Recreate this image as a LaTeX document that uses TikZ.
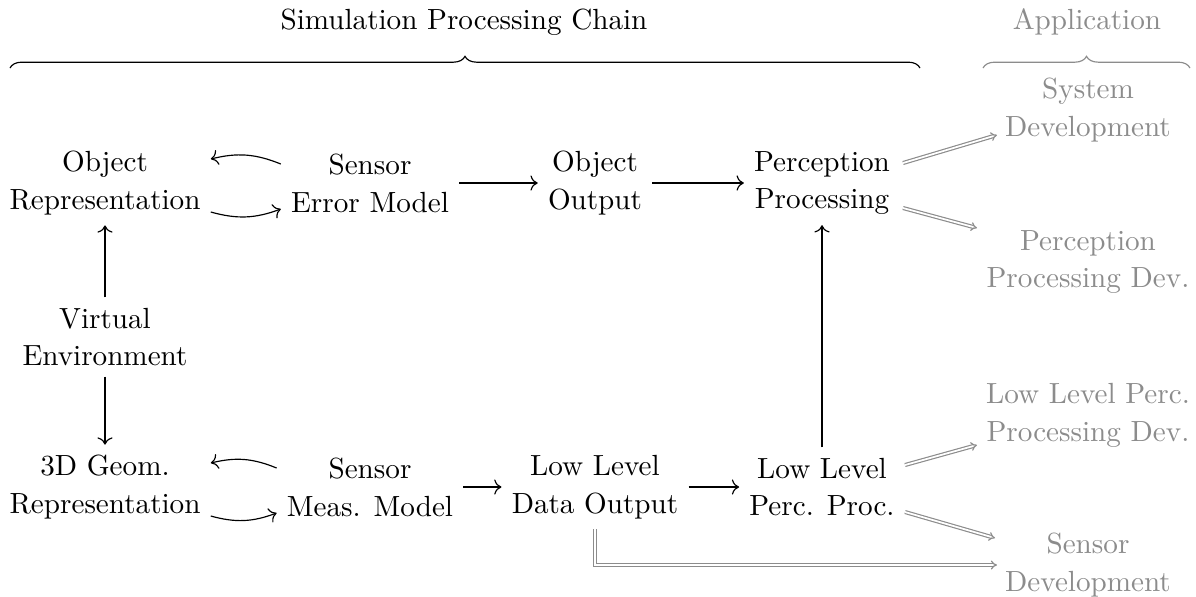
\documentclass[tikz,border=0pt]{standalone}
\usetikzlibrary{calc,decorations.pathreplacing,arrows.meta}
\definecolor{appgray}{gray}{0.55}
\tikzset{
  blk/.style={align=center,font=\fontsize{10}{13}\selectfont},
  app/.style={blk,text=appgray},
  flow/.style={->},
  appflow/.style={draw=appgray,double,-{Implies[scale=0.75]}},
  chainbrace/.style={decorate,decoration={brace,amplitude=4pt}},
}
\begin{document}
\begin{tikzpicture}[x=0.343pt,y=-0.343pt]
\useasboundingbox (0,0) rectangle (1196,596);

% headings and braces
\node[blk] (simtitle) at (464,22) {Simulation Processing Chain};
\node[app] (apptitle) at (1087,22) {Application};
\coordinate (b1l) at (10,68);
\coordinate (b1r) at (920,68);
\coordinate (b2l) at (983,68);
\coordinate (b2r) at (1190,68);
\draw[chainbrace] (b1l) -- (b1r);
\draw[chainbrace,appgray] (b2l) -- (b2r);

% processing chain
\node[blk] (objrep) at (105,183) {Object\\Representation};
\node[blk] (errmod) at (370,183) {Sensor\\Error Model};
\node[blk] (objout) at (595,183) {Object\\Output};
\node[blk] (perc)   at (822,183) {Perception\\Processing};
\node[blk] (venv)   at (105,337) {Virtual\\Environment};
\node[blk] (geom)   at (105,487) {3D Geom.\\Representation};
\node[blk] (measmod) at (370,487) {Sensor\\Meas. Model};
\node[blk] (lldata) at (595,487) {Low Level\\Data Output};
\node[blk] (llperc) at (822,487) {Low Level\\Perc. Proc.};

% applications
\node[app] (sysdev)  at (1088,110) {System\\Development};
\node[app] (percdev) at (1088,262) {Perception\\Processing Dev.};
\node[app] (lldev)   at (1088,415) {Low Level Perc.\\Processing Dev.};
\node[app] (sensdev) at (1088,565) {Sensor\\Development};

% chain connectors
\draw[flow] ($(objrep.east)+(0,29)$) to[bend right=18] ($(errmod.west)+(0,26)$);
\draw[flow] ($(errmod.west)+(0,-19)$) to[bend right=18] ($(objrep.east)+(0,-24)$);
\draw[flow] ($(geom.east)+(0,29)$) to[bend right=18] ($(measmod.west)+(0,26)$);
\draw[flow] ($(measmod.west)+(0,-19)$) to[bend right=18] ($(geom.east)+(0,-24)$);
\draw[flow] (errmod) -- (objout);
\draw[flow] (objout) -- (perc);
\draw[flow] (measmod) -- (lldata);
\draw[flow] (lldata) -- (llperc);
\draw[flow] (venv) -- (objrep);
\draw[flow] (venv) -- (geom);
\draw[flow] (llperc) -- (perc);

% links to applications
\draw[appflow] ($(perc)+(81,-20)$) -- ($(sysdev)+(-91,25)$);
\draw[appflow] ($(perc)+(81,25)$) -- ($(percdev)+(-111,-34)$);
\draw[appflow] ($(llperc)+(83,-22)$) -- ($(lldev)+(-111,30)$);
\draw[appflow] ($(llperc)+(83,25)$) -- ($(sensdev)+(-93,-27)$);
\draw[appflow] (lldata.south) |- ($(sensdev)+(-91,0)$);
\end{tikzpicture}
\end{document}
